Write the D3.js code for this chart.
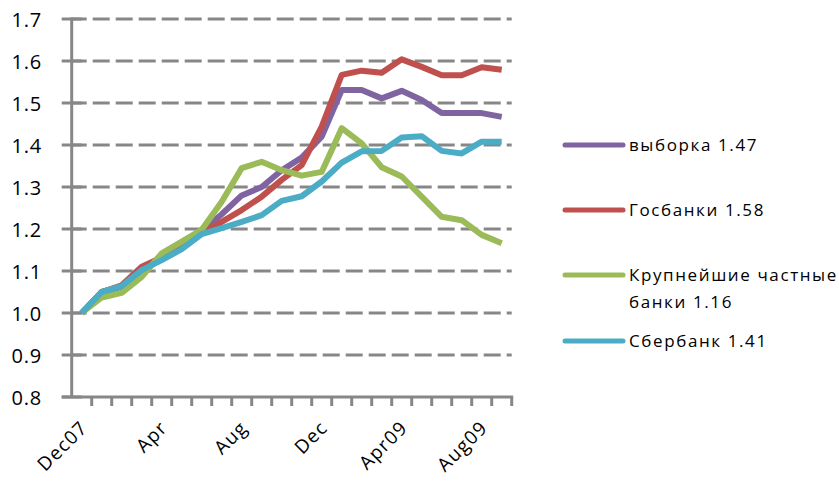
<!DOCTYPE html>
<html>
<head>
<meta charset="utf-8">
<script src="https://cdn.jsdelivr.net/npm/d3@7"></script>
<style>
  html, body { margin: 0; padding: 0; background: #fff; }
  svg { display: block; }
  text { font-family: "Open Sans", "Noto Sans", sans-serif; fill: #000; }
</style>
</head>
<body>
<svg id="chart" width="839" height="484"></svg>
<script>
// Monthly index, Dec 2007 = 1.0
const months = ["Dec07","Jan","Feb","Mar","Apr","May","Jun","Jul","Aug","Sep","Oct","Nov",
                "Dec","Jan09","Feb09","Mar09","Apr09","May09","Jun09","Jul09","Aug09","Sep09"];
const tickLabels = ["Dec07","","","","Apr","","","","Aug","","","","Dec","","","","Apr09","","","","Aug09",""];
const yTicks = [0.8, 0.9, 1.0, 1.1, 1.2, 1.3, 1.4, 1.5, 1.6, 1.7];

const seriesNames = ["выборка 1.47", "Госбанки 1.58", "Крупнейшие частные банки 1.16", "Сбербанк 1.41"];
const vyborka   = [1.00,1.050,1.062,1.105,1.130,1.160,1.195,1.235,1.280,1.300,1.340,1.370,1.420,1.531,1.531,1.511,1.529,1.507,1.476,1.476,1.476,1.467];
const gosbanki  = [1.00,1.050,1.066,1.110,1.132,1.162,1.190,1.217,1.245,1.277,1.317,1.352,1.444,1.567,1.577,1.572,1.604,1.586,1.566,1.566,1.585,1.579];
const chastnye  = [1.00,1.037,1.048,1.086,1.142,1.170,1.198,1.265,1.345,1.360,1.340,1.327,1.336,1.440,1.404,1.347,1.325,1.277,1.229,1.221,1.186,1.166];
const sberbank  = [1.00,1.050,1.064,1.102,1.126,1.152,1.188,1.202,1.217,1.233,1.267,1.278,1.313,1.358,1.385,1.386,1.418,1.421,1.386,1.380,1.408,1.408];
const colors = ["#8064A2", "#C0504D", "#9BBB59", "#4BACC6"];

const series = [vyborka, gosbanki, chastnye, sberbank];

const svg = d3.select("#chart");
const plotLeft = 71.7, plotRight = 511.7, plotTop = 19, plotBottom = 397;
const axisColor = "#878787";

const x = d3.scaleBand().domain(months).range([plotLeft, plotRight]).paddingInner(0).paddingOuter(0);
const xc = m => x(m) + x.bandwidth() / 2;
const y = d3.scaleLinear().domain([0.8, 1.7]).range([plotBottom, plotTop]);

// dashed horizontal gridlines
svg.append("g").selectAll("line")
  .data(yTicks.filter(v => v > 0.8))
  .join("line")
  .attr("x1", plotLeft).attr("x2", plotRight)
  .attr("y1", d => y(d)).attr("y2", d => y(d))
  .attr("stroke", axisColor).attr("stroke-width", 3)
  .attr("stroke-dasharray", "17,6").attr("stroke-dashoffset", 2);

// y axis with crossing tick marks
const yAxis = svg.append("g");
yAxis.append("line")
  .attr("x1", plotLeft).attr("x2", plotLeft).attr("y1", plotTop - 1.5).attr("y2", plotBottom)
  .attr("stroke", axisColor).attr("stroke-width", 3);
yAxis.selectAll("line.tick")
  .data(yTicks)
  .join("line").attr("class", "tick")
  .attr("x1", plotLeft - 10).attr("x2", plotLeft + 10)
  .attr("y1", d => y(d)).attr("y2", d => y(d))
  .attr("stroke", axisColor).attr("stroke-width", 3);
yAxis.selectAll("text")
  .data(yTicks)
  .join("text")
  .attr("x", 42).attr("y", d => y(d) + 8)
  .attr("text-anchor", "end")
  .style("font-size", "20px").style("letter-spacing", "0.8px")
  .text(d => d.toFixed(1));

// x axis with tick marks between categories
const xAxis = svg.append("g");
xAxis.append("line")
  .attr("x1", plotLeft - 10).attr("x2", plotRight + 1.5).attr("y1", plotBottom).attr("y2", plotBottom)
  .attr("stroke", axisColor).attr("stroke-width", 3);
const boundaries = months.map(m => x(m)).concat([plotRight]);
xAxis.selectAll("line.tick")
  .data(boundaries.slice(1))
  .join("line").attr("class", "tick")
  .attr("x1", d => d).attr("x2", d => d)
  .attr("y1", plotBottom).attr("y2", plotBottom + 9)
  .attr("stroke", axisColor).attr("stroke-width", 3);
xAxis.selectAll("text")
  .data(months.map((m, i) => ({ m, label: tickLabels[i] })).filter(d => d.label))
  .join("text")
  .attr("text-anchor", "end")
  .attr("transform", d => `translate(${xc(d.m) + 7},${plotBottom + 32}) rotate(-45)`)
  .style("font-size", "19px").style("letter-spacing", "1.2px")
  .text(d => d.label);

// series lines
const line = d3.line().x((d, i) => xc(months[i])).y(d => y(d));
svg.append("g").selectAll("path")
  .data(series)
  .join("path")
  .attr("d", d => line(d))
  .attr("fill", "none")
  .attr("stroke", (d, i) => colors[i])
  .attr("stroke-width", 6)
  .attr("stroke-linejoin", "round");

// legend
const legendY = [145, 210, 275, 341];
const legend = svg.append("g").selectAll("g")
  .data(seriesNames)
  .join("g")
  .attr("transform", (d, i) => `translate(565,${legendY[i]})`);
legend.append("line")
  .attr("x1", 0).attr("x2", 58).attr("y1", 0).attr("y2", 0)
  .attr("stroke", (d, i) => colors[i]).attr("stroke-width", 5)
  .attr("stroke-linecap", "round");
legend.append("text")
  .attr("x", 64).attr("y", 6)
  .style("font-size", "17px").style("letter-spacing", "1.6px")
  .each(function(d, i) {
    const t = d3.select(this);
    if (i === 2) {
      t.append("tspan").attr("x", 64).attr("dy", 0).text("Крупнейшие частные");
      t.append("tspan").attr("x", 64).attr("dy", 27).text("банки 1.16");
    } else {
      t.text(d);
    }
  });
</script>
</body>
</html>
